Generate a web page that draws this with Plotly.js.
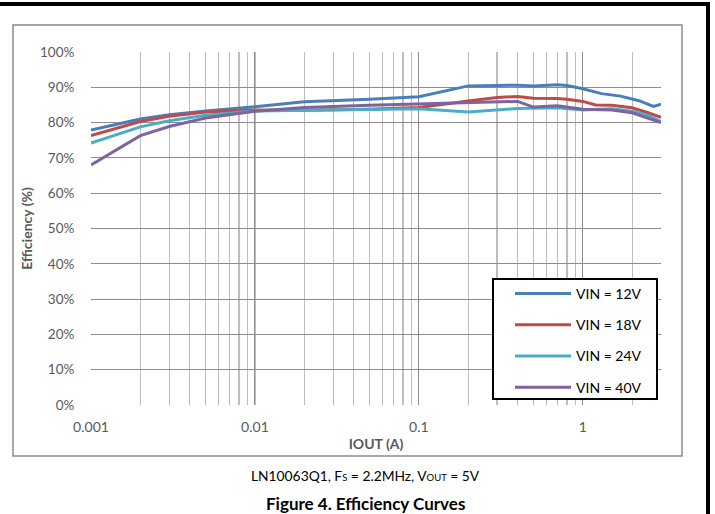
<!DOCTYPE html>
<html>
<head>
<meta charset="utf-8">
<script src="https://cdn.plot.ly/plotly-3.0.1.min.js"></script>
<style>html,body{margin:0;padding:0;background:#fff;}#chart{width:715px;height:514px;}</style>
</head>
<body>
<div id="chart"></div>
<script>
// ---- data ----
const seriesNames = ['VIN = 12V', 'VIN = 18V', 'VIN = 24V', 'VIN = 40V'];
const seriesColors = ['#4A7EBB', '#BE4B48', '#4BACC6', '#7F63A1'];

const iout12 = [0.001, 0.002, 0.003, 0.005, 0.01, 0.02, 0.05, 0.1, 0.2, 0.3, 0.4, 0.5, 0.6, 0.7, 0.8, 1.0, 1.3, 1.7, 2.2, 2.7, 3.0];
const eff12  = [77.9, 81.0, 82.2, 83.3, 84.5, 85.9, 86.6, 87.3, 90.4, 90.5, 90.6, 90.4, 90.6, 90.7, 90.5, 89.6, 88.2, 87.5, 86.2, 84.6, 85.2];

const iout18 = [0.001, 0.002, 0.003, 0.005, 0.01, 0.02, 0.05, 0.1, 0.2, 0.3, 0.4, 0.5, 0.7, 0.8, 1.0, 1.2, 1.5, 2.0, 2.5, 3.0];
const eff18  = [76.3, 80.3, 81.8, 83.0, 83.6, 83.5, 83.8, 84.3, 86.1, 87.1, 87.4, 86.9, 86.8, 86.6, 86.0, 85.0, 84.9, 84.2, 82.8, 81.5];

const iout24 = [0.001, 0.002, 0.003, 0.005, 0.01, 0.02, 0.05, 0.1, 0.2, 0.4, 0.7, 1.0, 1.5, 2.0, 2.5, 3.0];
const eff24  = [74.2, 78.8, 80.5, 82.1, 83.3, 83.5, 83.8, 83.9, 83.0, 84.0, 84.2, 83.6, 83.9, 83.2, 82.0, 80.3];

const iout40 = [0.001, 0.002, 0.003, 0.005, 0.01, 0.02, 0.05, 0.1, 0.2, 0.4, 0.5, 0.7, 1.0, 1.5, 2.0, 3.0];
const eff40  = [68.0, 76.3, 78.9, 81.3, 83.2, 84.3, 84.9, 85.3, 85.5, 86.0, 84.4, 84.8, 83.8, 83.6, 82.8, 80.0];

const xTickVals = [0.001, 0.01, 0.1, 1];
const xTickText = ['0.001', '0.01', '0.1', '1'];

const xs = [iout12, iout18, iout24, iout40];
const ys = [eff12, eff18, eff24, eff40];

const FONT = 'Lato, "Open Sans", sans-serif';

const traces = seriesNames.map((name, i) => ({
  type: 'scatter', mode: 'lines', name: name,
  x: xs[i], y: ys[i],
  line: {color: seriesColors[i], width: 3},
  legendgroup: 'g' + i,
  hoverinfo: 'skip'
}));

// pixel helpers for paper coordinates (plot area 91..661 x 52..405)
const L = 91, R = 54, T = 52, B = 109, W = 715, H = 514;
const pw = W - L - R, ph = H - T - B;
const px = v => (v - L) / pw;
const py = v => (H - B - v) / ph;

const layout = {
  width: W, height: H,
  margin: {l: L, r: R, t: T, b: B, pad: 0},
  paper_bgcolor: '#ffffff', plot_bgcolor: '#ffffff',
  font: {family: FONT, color: '#595959'},
  showlegend: true,
  xaxis: {
    type: 'log', range: [-3, Math.log10(3)],
    tickmode: 'array', tickvals: xTickVals, ticktext: xTickText,
    showgrid: true, gridcolor: '#8c8c8c', gridwidth: 1,
    minor: {dtick: 'D1', showgrid: true, gridcolor: '#bdbdbd', gridwidth: 1.2, ticks: ''},
    zeroline: false, showline: false,
    ticks: 'outside', ticklen: 9, tickcolor: 'rgba(0,0,0,0)',
    tickfont: {family: FONT, size: 14, color: '#595959'},
    title: {text: '<b>IOUT (A)</b>', font: {family: FONT, size: 14, color: '#595959'}, standoff: 5},
    automargin: false, fixedrange: true
  },
  yaxis: {
    range: [0, 100], dtick: 10, ticksuffix: '%',
    showgrid: true, gridcolor: '#8c8c8c', gridwidth: 1,
    zeroline: false, showline: false,
    ticks: 'outside', ticklen: 13, tickcolor: 'rgba(0,0,0,0)',
    tickfont: {family: FONT, size: 13.5, color: '#595959'},
    title: {text: '<b>Efficiency (%)</b>', font: {family: FONT, size: 14, color: '#595959'}, standoff: 4},
    automargin: false, fixedrange: true
  },
  legend: {
    x: px(510), y: py(278), xanchor: 'left', yanchor: 'top',
    bgcolor: 'rgba(0,0,0,0)', borderwidth: 0,
    font: {family: FONT, size: 14, color: '#000000'},
    itemwidth: 56,
    tracegroupgap: 10, itemclick: false, itemdoubleclick: false
  },
  shapes: [
    // legend box
    {type: 'rect', xref: 'paper', yref: 'paper', x0: px(493), x1: px(657), y0: py(399), y1: py(279),
     line: {color: '#000000', width: 2}, fillcolor: '#ffffff', layer: 'above'},
    // chart outer frame
    {type: 'rect', xref: 'paper', yref: 'paper', x0: px(13), x1: px(682), y0: py(456), y1: py(25),
     line: {color: '#8a8a8a', width: 1.5}, fillcolor: 'rgba(0,0,0,0)', layer: 'below'},
    // page border lines
    {type: 'line', xref: 'paper', yref: 'paper', x0: px(0), x1: px(710), y0: py(4), y1: py(4),
     line: {color: '#000000', width: 4}},
    {type: 'line', xref: 'paper', yref: 'paper', x0: px(708), x1: px(708), y0: py(2), y1: py(514),
     line: {color: '#000000', width: 4}}
  ],
  annotations: [
    {xref: 'paper', yref: 'paper', x: px(365), y: py(475), xanchor: 'center', yanchor: 'middle',
     text: 'LN10063Q1, F<span style="font-size:9.5px">S</span> = 2.2MHz, V<span style="font-size:9.5px">OUT</span> = 5V', showarrow: false,
     font: {family: FONT, size: 13.8, color: '#000000'}},
    {xref: 'paper', yref: 'paper', x: px(365), y: py(503), xanchor: 'center', yanchor: 'middle',
     text: '<b>Figure 4. Efficiency Curves</b>', showarrow: false,
     font: {family: FONT, size: 17, color: '#000000'}}
  ]
};

Plotly.newPlot('chart', traces, layout, {staticPlot: true, displayModeBar: false});
</script>
</body>
</html>
